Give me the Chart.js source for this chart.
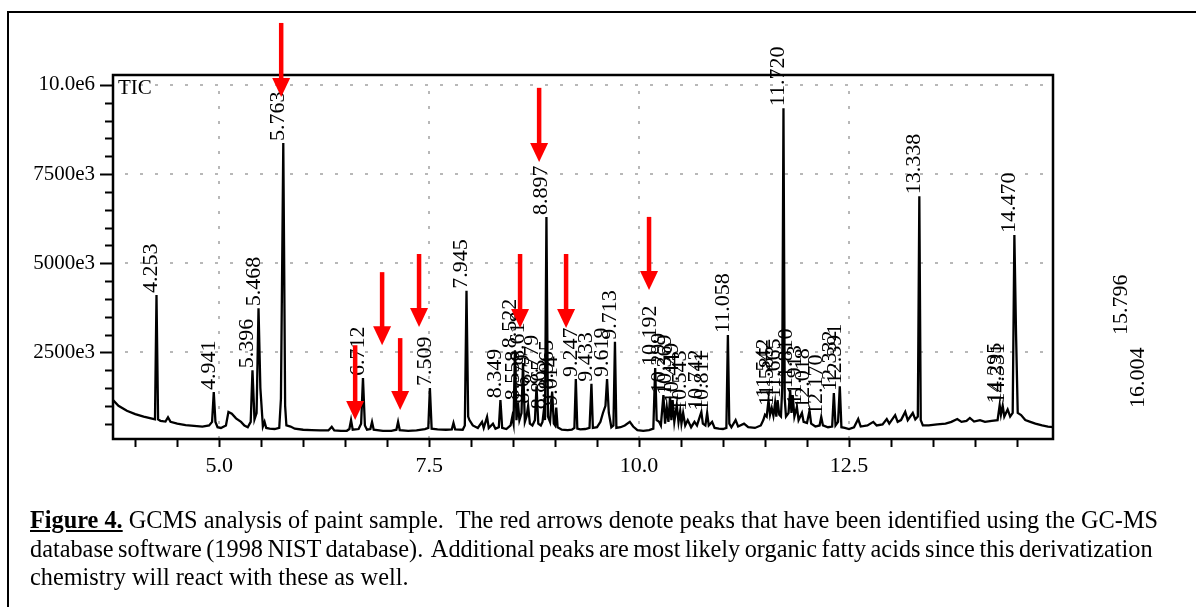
<!DOCTYPE html>
<html>
<head>
<meta charset="utf-8">
<script src="https://cdn.jsdelivr.net/npm/chart.js@4.4.1/dist/chart.umd.min.js"></script>
<style>
  html, body { margin: 0; padding: 0; background: #fff; }
  #wrap { position: relative; width: 1196px; height: 607px; overflow: hidden; }
  #frame { position: absolute; left: 7px; top: 11px; width: 1189px; height: 600px;
           border-top: 2px solid #000; border-left: 2px solid #000; }
  #caption { position: absolute; left: 30px; top: 506px; font-family: 'Liberation Serif', serif;
             font-size: 24.3px; line-height: 28.5px; white-space: nowrap; color: #000; }
  #caption .tight { word-spacing: -1.6px; }
  canvas { position: absolute; left: 0; top: 0; }
</style>
</head>
<body>
<div id="wrap">
  <div id="frame"></div>
  <canvas id="gcms" width="1196" height="607"></canvas>
  <div id="caption"><b><u>Figure 4.</u></b> GCMS analysis of paint sample.&nbsp; The red arrows denote peaks that have been identified using the GC-MS<br><span class="tight">database software (1998 NIST database).&nbsp; Additional peaks are most likely organic fatty acids since this derivatization</span><br>chemistry will react with these as well.</div>
</div>
<script>
// retention time (min) and TIC signal (x 1e6)
var traceTime = [
  3.735, 3.80, 3.90, 4.00, 4.10, 4.20, 4.235, 4.253, 4.272, 4.30, 4.36, 4.39, 4.42, 4.50, 4.60, 4.70, 4.80, 4.88, 4.915, 4.935, 4.955, 4.98,
  5.02, 5.08, 5.11, 5.15, 5.20, 5.26, 5.30, 5.34, 5.375, 5.396, 5.42, 5.445, 5.468, 5.49, 5.52, 5.54, 5.56, 5.60, 5.66, 5.715, 5.735, 5.750,
  5.763, 5.772, 5.785, 5.80, 5.85, 5.90, 6.00, 6.10, 6.20, 6.30, 6.34, 6.37, 6.45, 6.52, 6.55, 6.57, 6.59, 6.66, 6.69, 6.712, 6.735, 6.76,
  6.80, 6.82, 6.84, 6.95, 7.05, 7.11, 7.13, 7.15, 7.25, 7.35, 7.45, 7.49, 7.509, 7.53, 7.60, 7.70, 7.77, 7.79, 7.81, 7.90, 7.925, 7.945,
  7.965, 7.98, 8.02, 8.08, 8.13, 8.15, 8.19, 8.21, 8.26, 8.29, 8.33, 8.349, 8.37, 8.42, 8.47, 8.49, 8.505, 8.522, 8.54, 8.558, 8.575, 8.60,
  8.618, 8.64, 8.66, 8.679, 8.70, 8.73, 8.76, 8.779, 8.80, 8.83, 8.85, 8.865, 8.88, 8.897, 8.915, 8.94, 8.965, 8.985, 9.00, 9.014, 9.03, 9.08,
  9.15, 9.20, 9.23, 9.247, 9.265, 9.30, 9.36, 9.41, 9.433, 9.45, 9.50, 9.54, 9.57, 9.60, 9.619, 9.64, 9.67, 9.695, 9.713, 9.73, 9.78, 9.83,
  9.89, 9.93, 9.98, 10.05, 10.12, 10.17, 10.192, 10.21, 10.24, 10.26, 10.29, 10.31, 10.33, 10.35, 10.369, 10.385, 10.40, 10.42, 10.449, 10.47,
  10.49, 10.505, 10.525, 10.55, 10.58, 10.62, 10.66, 10.69, 10.742, 10.76, 10.79, 10.811, 10.83, 10.87, 10.90, 10.95, 11.00, 11.04, 11.058,
  11.075, 11.10, 11.15, 11.18, 11.25, 11.30, 11.38, 11.45, 11.48, 11.50, 11.52, 11.542, 11.56, 11.58, 11.60, 11.62, 11.635, 11.65, 11.67,
  11.69, 11.705, 11.720, 11.735, 11.75, 11.78, 11.80, 11.815, 11.83, 11.85, 11.88, 11.90, 11.94, 11.96, 12.00, 12.03, 12.05, 12.10, 12.15,
  12.17, 12.19, 12.25, 12.30, 12.32, 12.34, 12.37, 12.391, 12.41, 12.45, 12.50, 12.56, 12.61, 12.64, 12.72, 12.79, 12.83, 12.90, 12.95,
  12.98, 13.05, 13.08, 13.12, 13.17, 13.20, 13.26, 13.29, 13.32, 13.338, 13.355, 13.38, 13.45, 13.55, 13.65, 13.72, 13.79, 13.84, 13.90,
  13.94, 13.99, 14.06, 14.12, 14.20, 14.27, 14.295, 14.31, 14.331, 14.35, 14.39, 14.42, 14.45, 14.470, 14.49, 14.51, 14.55, 14.60, 14.66,
  14.72, 14.80, 14.87, 14.93
];
var traceSignal = [
  1.16, 1.00, 0.86, 0.77, 0.70, 0.64, 0.62, 4.11, 0.62, 0.58, 0.56, 0.68, 0.55, 0.50, 0.46, 0.44, 0.42, 0.45, 0.55, 1.39, 0.55, 0.40,
  0.38, 0.45, 0.83, 0.78, 0.65, 0.55, 0.45, 0.40, 0.55, 2.00, 0.62, 0.80, 3.74, 1.50, 0.42, 0.55, 0.38, 0.36, 0.35, 0.38, 1.20, 5.00,
  8.37, 5.50, 1.00, 0.45, 0.42, 0.36, 0.33, 0.32, 0.31, 0.31, 0.41, 0.31, 0.30, 0.30, 0.35, 0.60, 0.33, 0.35, 0.50, 1.78, 0.45, 0.33,
  0.35, 0.55, 0.33, 0.30, 0.30, 0.33, 0.55, 0.32, 0.30, 0.31, 0.35, 0.38, 1.50, 0.36, 0.34, 0.33, 0.34, 0.52, 0.34, 0.33, 0.45, 4.23,
  0.70, 0.60, 0.45, 0.38, 0.55, 0.38, 0.69, 0.38, 0.50, 0.36, 0.40, 1.16, 0.38, 0.35, 0.45, 0.69, 0.50, 2.56, 0.60, 1.10, 0.60, 0.80,
  2.20, 0.55, 0.70, 1.00, 0.50, 0.45, 0.60, 1.55, 0.50, 0.45, 0.55, 0.85, 0.60, 6.30, 0.70, 0.55, 1.40, 0.50, 0.45, 0.95, 0.40, 0.33,
  0.32, 0.33, 0.38, 1.75, 0.36, 0.34, 0.35, 0.38, 1.62, 0.38, 0.40, 0.55, 0.80, 1.00, 1.75, 0.80, 0.40, 0.45, 2.80, 0.38, 0.40, 0.45,
  0.55, 0.42, 0.32, 0.30, 0.32, 0.36, 2.06, 0.60, 0.55, 0.45, 1.30, 0.50, 0.97, 0.55, 1.25, 0.60, 1.16, 0.55, 1.02, 0.55,
  0.86, 0.50, 0.80, 0.45, 0.60, 0.40, 0.55, 0.45, 0.83, 0.50, 0.45, 0.80, 0.45, 0.55, 0.38, 0.36, 0.35, 0.38, 2.99,
  0.50, 0.40, 0.60, 0.42, 0.50, 0.40, 0.38, 0.45, 0.60, 0.75, 0.70, 1.16, 0.75, 0.94, 0.72, 1.08, 0.70, 1.16, 0.75,
  0.70, 1.50, 9.35, 1.20, 0.70, 0.80, 1.44, 0.80, 1.30, 0.70, 0.97, 0.60, 0.80, 0.55, 0.52, 0.86, 0.50, 0.42, 0.45,
  0.69, 0.45, 0.40, 0.42, 1.36, 0.45, 0.55, 1.55, 0.40, 0.38, 0.35, 0.40, 0.63, 0.42, 0.45, 0.55, 0.45, 0.48, 0.63,
  0.50, 0.74, 0.55, 0.60, 0.83, 0.60, 0.80, 0.62, 0.70, 6.88, 0.60, 0.45, 0.45, 0.48, 0.50, 0.55, 0.63, 0.55, 0.58,
  0.66, 0.56, 0.60, 0.55, 0.58, 0.60, 1.02, 0.75, 1.00, 0.70, 0.90, 0.70, 0.80, 5.79, 3.00, 0.80, 0.74, 0.60, 0.55,
  0.50, 0.45, 0.42, 0.40
];

// peak labels: retention time printed and the height it sits on
var peakLabels = ['4.253', '4.941', '5.396', '5.468', '5.763', '6.712', '7.509', '7.945', '8.349', '8.522', '8.558', '8.618',
  '8.679', '8.779', '8.865', '8.897', '8.965', '9.014', '9.247', '9.433', '9.619', '9.713', '10.192', '10.299', '10.369',
  '10.449', '10.543', '10.742', '10.811', '11.058', '11.542', '11.585', '11.665', '11.720', '11.810', '11.913', '12.018',
  '12.170', '12.332', '12.391', '13.338', '14.295', '14.331', '14.470', '15.796', '16.004'];
var peakHeights = [4.11, 1.39, 2.00, 3.74, 8.37, 1.78, 1.50, 4.23, 1.16, 2.56, 1.10, 2.20,
  1.00, 1.55, 0.85, 6.30, 1.40, 0.95, 1.75, 1.62, 1.75, 2.80, 2.06, 1.30, 1.25,
  1.02, 0.80, 0.83, 0.80, 2.99, 1.16, 0.94, 1.16, 9.35, 1.44, 0.97, 0.86,
  0.69, 1.36, 1.55, 6.88, 1.02, 1.00, 5.79, 2.93, 0.88];

// red arrows: time, tail height, tip height (x 1e6)
var arrowTime = [5.738, 6.619, 6.94, 7.155, 7.38, 8.583, 8.81, 9.131, 10.119];
var arrowTail = [11.74, 2.70, 4.75, 2.90, 5.26, 5.26, 9.92, 5.26, 6.30];
var arrowTip = [9.66, 0.60, 2.70, 0.88, 3.21, 3.18, 7.84, 3.18, 4.25];

var xTickValues = [5.0, 7.5, 10.0, 12.5];
var xTickLabels = ['5.0', '7.5', '10.0', '12.5'];
var yTickValues = [2.5, 5.0, 7.5, 10.0];
var yTickLabels = ['2500e3', '5000e3', '7500e3', '10.0e6'];

var points = traceTime.map(function (t, i) { return { x: t, y: traceSignal[i] }; });

var serif = "'Liberation Serif', 'Times New Roman', serif";
Chart.defaults.font.family = serif;
Chart.defaults.color = '#000';

var decorations = {
  id: 'decorations',
  beforeDatasetsDraw: function (chart) {
    var ctx = chart.ctx, a = chart.chartArea;
    var xs = chart.scales.x, ys = chart.scales.y;
    ctx.save();
    ctx.strokeStyle = '#b8b8b8';
    ctx.lineWidth = 2;
    ctx.setLineDash([3, 12]);
    yTickValues.forEach(function (v) {
      var py = Math.round(ys.getPixelForValue(v));
      ctx.beginPath(); ctx.moveTo(a.left + 12, py); ctx.lineTo(a.right, py); ctx.stroke();
    });
    xTickValues.forEach(function (v) {
      var px = Math.round(xs.getPixelForValue(v));
      ctx.beginPath(); ctx.moveTo(px, a.bottom); ctx.lineTo(px, a.top + 8); ctx.stroke();
    });
    ctx.restore();
  },
  afterDraw: function (chart) {
    var ctx = chart.ctx, a = chart.chartArea;
    var xs = chart.scales.x, ys = chart.scales.y;
    ctx.save();
    // frame and tick marks
    ctx.strokeStyle = '#000';
    ctx.lineWidth = 2.5;
    ctx.strokeRect(a.left, a.top, a.right - a.left, a.bottom - a.top);
    ctx.lineWidth = 2;
    for (var v = 0.5; v <= 10.25; v += 0.5) {
      var py = Math.round(ys.getPixelForValue(v)) + 0.5;
      var len = yTickValues.indexOf(v) >= 0 ? 13 : 8;
      ctx.beginPath(); ctx.moveTo(a.left - len, py); ctx.lineTo(a.left, py); ctx.stroke();
    }
    for (var t = 4.0; t <= 14.9; t += 0.5) {
      var px = Math.round(xs.getPixelForValue(t)) + 0.5;
      ctx.beginPath(); ctx.moveTo(px, a.bottom); ctx.lineTo(px, a.bottom + 8); ctx.stroke();
    }
    // TIC tag
    ctx.fillStyle = '#000';
    ctx.font = '21px ' + serif;
    ctx.textBaseline = 'alphabetic';
    ctx.textAlign = 'left';
    ctx.fillText('TIC', a.left + 5, a.top + 19);
    // peak labels
    ctx.font = '22px ' + serif;
    peakLabels.forEach(function (lab, i) {
      var px = xs.getPixelForValue(parseFloat(lab));
      var py = ys.getPixelForValue(peakHeights[i]);
      ctx.save();
      ctx.translate(px + 1, py - 2);
      ctx.rotate(-Math.PI / 2);
      ctx.fillText(lab, 0, 0);
      ctx.restore();
    });
    // red arrows
    ctx.strokeStyle = '#ff0000';
    ctx.fillStyle = '#ff0000';
    ctx.lineWidth = 4.5;
    ctx.setLineDash([]);
    arrowTime.forEach(function (t, i) {
      var px = xs.getPixelForValue(t);
      var top = ys.getPixelForValue(arrowTail[i]);
      var tip = ys.getPixelForValue(arrowTip[i]);
      ctx.beginPath(); ctx.moveTo(px, top); ctx.lineTo(px, tip - 16); ctx.stroke();
      ctx.beginPath();
      ctx.moveTo(px - 9, tip - 19);
      ctx.lineTo(px + 9, tip - 19);
      ctx.lineTo(px, tip);
      ctx.closePath(); ctx.fill();
    });
    ctx.restore();
  }
};

new Chart(document.getElementById('gcms'), {
  type: 'line',
  data: {
    datasets: [{
      data: points,
      borderColor: '#000',
      borderWidth: 2.3,
      pointRadius: 0,
      tension: 0,
      fill: false
    }]
  },
  options: {
    responsive: false,
    animation: false,
    events: [],
    layout: { padding: { left: 0, right: 143, top: 75, bottom: 128 } },
    plugins: { legend: { display: false }, tooltip: { enabled: false } },
    scales: {
      x: {
        type: 'linear',
        min: 3.735,
        max: 14.93,
        grid: { display: false },
        border: { display: false },
        afterBuildTicks: function (s) { s.ticks = xTickValues.map(function (v) { return { value: v }; }); },
        afterFit: function (s) { s.height = 40; },
        ticks: {
          padding: 6,
          maxRotation: 0,
          font: { size: 22 },
          callback: function (v) { return xTickLabels[xTickValues.indexOf(v)]; }
        }
      },
      y: {
        type: 'linear',
        min: 0.07,
        max: 10.28,
        grid: { display: false },
        border: { display: false },
        afterBuildTicks: function (s) { s.ticks = yTickValues.map(function (v) { return { value: v }; }); },
        afterFit: function (s) { s.width = 113; },
        ticks: {
          padding: 10,
          font: { size: 21 },
          callback: function (v) { return yTickLabels[yTickValues.indexOf(v)]; }
        }
      }
    }
  },
  plugins: [decorations]
});
</script>
</body>
</html>
